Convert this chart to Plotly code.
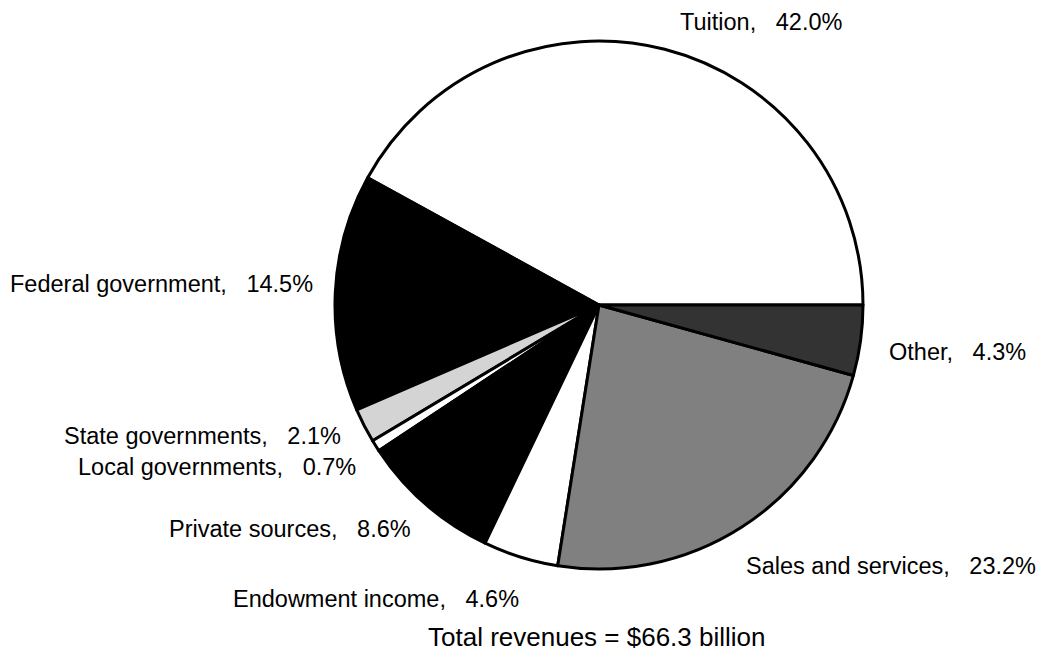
import plotly.graph_objects as go

W, H = 1045, 654

categories = ["Tuition", "Federal government", "State governments", "Local governments",
              "Private sources", "Endowment income", "Sales and services", "Other"]
shares = [42.0, 14.5, 2.1, 0.7, 8.6, 4.6, 23.2, 4.3]
fills = ["#ffffff", "#000000", "#d4d4d4", "#ffffff", "#000000", "#ffffff", "#808080", "#333333"]
total_note = "Total revenues = $66.3 billion"

# label anchor points in pixels (center of text)
label_xy = [(761, 22), (161, 284), (202, 436), (217, 467), (290, 529), (376, 599), (891, 566), (957, 352)]

cx, cy, r = 599, 305, 264

# first slice begins at 3 o'clock and the rest follow counterclockwise
start_rot = 90 - shares[0] / sum(shares) * 360

fig = go.Figure(go.Pie(
    labels=categories,
    values=shares,
    sort=False,
    direction="counterclockwise",
    rotation=start_rot,
    marker=dict(colors=fills, line=dict(color="#000000", width=3)),
    textinfo="none",
    hoverinfo="label+percent",
    showlegend=False,
    domain=dict(x=[(cx - r) / W, (cx + r) / W], y=[(H - cy - r) / H, (H - cy + r) / H]),
))

sp = "\u00a0\u00a0\u00a0"
for name, val, (px, py) in zip(categories, shares, label_xy):
    fig.add_annotation(
        x=px / W, y=1 - py / H, xref="paper", yref="paper",
        text=f"{name},{sp}{val:.1f}%", showarrow=False,
        xanchor="center", yanchor="middle",
        font=dict(family="Liberation Sans, Arial, sans-serif", size=23.5, color="#000000"),
    )

fig.add_annotation(
    x=597 / W, y=1 - 637 / H, xref="paper", yref="paper",
    text=total_note, showarrow=False, xanchor="center", yanchor="middle",
    font=dict(family="Liberation Sans, Arial, sans-serif", size=26, color="#000000"),
)

fig.update_layout(
    width=W, height=H,
    margin=dict(l=0, r=0, t=0, b=0),
    paper_bgcolor="#ffffff", plot_bgcolor="#ffffff",
)

fig.write_html("out.html")
